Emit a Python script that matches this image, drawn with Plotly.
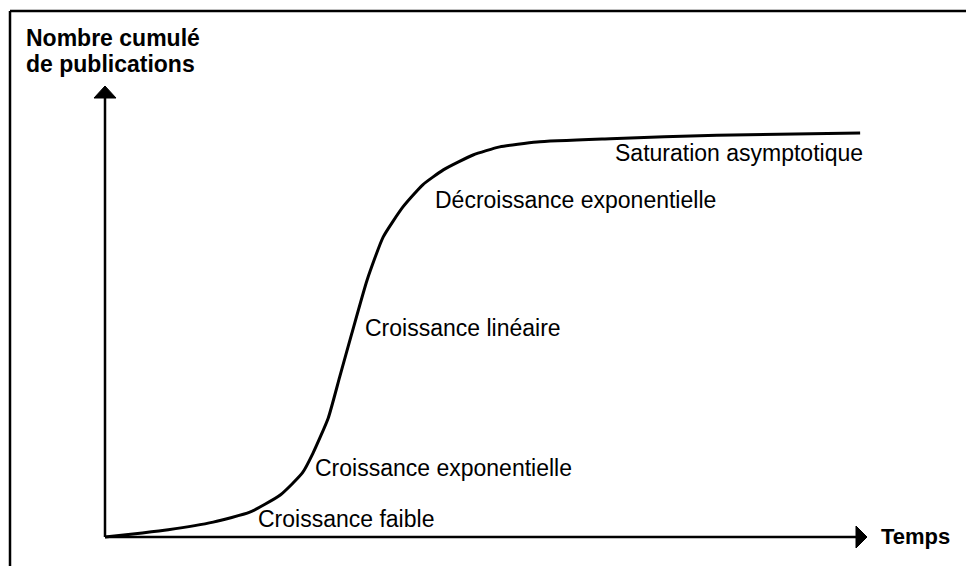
import plotly.graph_objects as go

# Data (abstract units: time 0..100, cumulative publications 0..100)
temps = [0, 4.9, 8.3, 14.2, 19.0, 23.0, 25.9, 27.3, 29.3, 30.8, 32.4, 34.4,
         36.5, 39.1, 41.7, 44.4, 48.3, 51.8, 56.7, 66.3, 80.3, 99.1]
publications = [0, 0.9, 1.6, 3.3, 5.5, 9.3, 14.2, 18.6, 26.4, 35.5, 45.2, 57.0,
                66.5, 73.2, 78.1, 81.4, 84.7, 86.5, 87.6, 88.3, 89.1, 89.6]

phase_labels = ["Saturation asymptotique", "Décroissance exponentielle",
                "Croissance linéaire", "Croissance exponentielle", "Croissance faible"]
phase_x = [66.7, 43.0, 33.9, 27.3, 19.8]
phase_y = [85.1, 74.8, 46.4, 15.3, 3.9]

y_title = ["Nombre cumulé", "de publications"]
x_title = "Temps"

# Layout geometry (pixels)
W, H = 966, 566
ox, oy = 105, 537          # origin pixel
sx, sy = 7.62, 4.51        # pixels per unit
xr = [(0 - ox) / sx, (W - ox) / sx]
yr = [(oy - H) / sy, (oy - 0) / sy]

def px_x(p):
    return (p - ox) / sx

def px_y(p):
    return (oy - p) / sy

FONT = "Liberation Sans, Arial, sans-serif"

fig = go.Figure()

fig.add_trace(go.Scatter(x=temps, y=publications, mode="lines",
                         line=dict(color="black", width=3, shape="spline", smoothing=0.5),
                         hoverinfo="skip", showlegend=False))

shapes = []
# axes lines
x_tip, y_tip = 100, 100
x_base = x_tip - 11 / sx
y_base = y_tip - 12 / sy
shapes.append(dict(type="line", xref="x", yref="y", x0=0, y0=0, x1=x_base, y1=0,
                   line=dict(color="black", width=2.5)))
shapes.append(dict(type="line", xref="x", yref="y", x0=0, y0=0, x1=0, y1=y_base,
                   line=dict(color="black", width=2.5)))
hx = 11 / sy
shapes.append(dict(type="path", xref="x", yref="y",
                   path=f"M {x_base},{-hx} L {x_tip},0 L {x_base},{hx} Z",
                   fillcolor="black", line=dict(color="black", width=1)))
hy = 11 / sx
shapes.append(dict(type="path", xref="x", yref="y",
                   path=f"M {-hy},{y_base} L 0,{y_tip} L {hy},{y_base} Z",
                   fillcolor="black", line=dict(color="black", width=1)))
# frame lines (top and left)
shapes.append(dict(type="line", xref="paper", yref="paper", x0=10 / W, y0=1 - 11 / H,
                   x1=1, y1=1 - 11 / H, line=dict(color="black", width=2.5)))
shapes.append(dict(type="line", xref="paper", yref="paper", x0=10 / W, y0=1 - 11 / H,
                   x1=10 / W, y1=0, line=dict(color="black", width=2.5)))

annotations = []
for t, x, y in zip(phase_labels, phase_x, phase_y):
    annotations.append(dict(text=t, x=x, y=y, xref="x", yref="y", xanchor="left",
                            yanchor="middle", showarrow=False,
                            font=dict(family=FONT, size=23, color="black")))
title_text = "<br>".join("<span style='font-size:23px'><b>" + s + "</b></span>" for s in y_title)
annotations.append(dict(text=title_text, x=px_x(24), y=px_y(51),
                        xref="x", yref="y", xanchor="left", yanchor="middle", showarrow=False,
                        align="left",
                        font=dict(family=FONT, size=20, color="black")))
annotations.append(dict(text="<b>" + x_title + "</b>", x=px_x(879), y=px_y(536.5),
                        xref="x", yref="y", xanchor="left", yanchor="middle", showarrow=False,
                        font=dict(family=FONT, size=22, color="black")))

fig.update_layout(width=W, height=H, margin=dict(l=0, r=0, t=0, b=0),
                  paper_bgcolor="white", plot_bgcolor="white",
                  xaxis=dict(range=xr, visible=False, fixedrange=True),
                  yaxis=dict(range=yr, visible=False, fixedrange=True),
                  shapes=shapes, annotations=annotations, showlegend=False)

fig.write_html("out.html", config={"displayModeBar": False, "staticPlot": True},
               post_script="document.body.style.margin='0';")
